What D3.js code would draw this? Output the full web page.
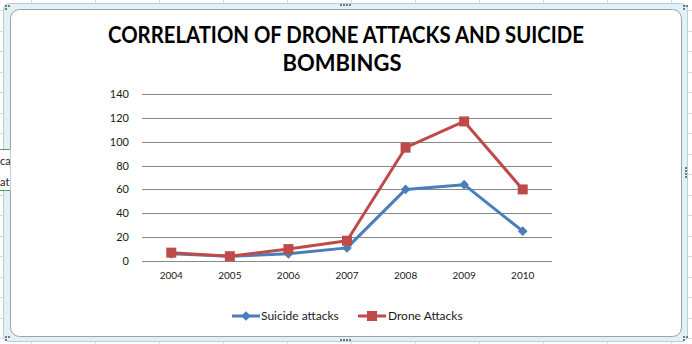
<!DOCTYPE html>
<html><head><meta charset="utf-8">
<script src="https://cdn.jsdelivr.net/npm/d3@7/dist/d3.min.js"></script>
<style>html,body{margin:0;padding:0;background:#fff;overflow:hidden}svg{display:block}</style>
</head><body>
<svg id="c" width="692" height="344"></svg>
<script>
const years = ["2004","2005","2006","2007","2008","2009","2010"];
const suicideAttacks = [6, 4, 6, 11, 60, 64, 25];
const droneAttacks = [7, 4, 10, 17, 95, 117, 60];
const yTicks = [0, 20, 40, 60, 80, 100, 120, 140];
const titleLines = ["CORRELATION OF DRONE ATTACKS AND SUICIDE", "BOMBINGS"];
const seriesNames = ["Suicide attacks", "Drone Attacks"];
const colors = ["#4a7ebb", "#be4b48"];

const svg = d3.select("#c");
const W = 692, H = 344;

// spreadsheet background grid
const bg = svg.append("g");
bg.append("rect").attr("width", W).attr("height", H).attr("fill", "#ffffff");
for (let x = 31; x < W; x += 64) bg.append("line").attr("x1", x + .5).attr("x2", x + .5).attr("y1", 0).attr("y2", H).attr("stroke", "#d4dbe6");
for (let y = 10; y < H; y += 20.5) bg.append("line").attr("x1", 0).attr("x2", W).attr("y1", Math.round(y) + .5).attr("y2", Math.round(y) + .5).attr("stroke", "#d4dbe6");

// chart frame
svg.append("rect").attr("x", 3.5).attr("y", 3.5).attr("width", 684).attr("height", 338).attr("rx", 6)
  .attr("fill", "#e1f1f5").attr("stroke", "#b7cfd6");
svg.append("rect").attr("x", 10.5).attr("y", 9.5).attr("width", 671).attr("height", 327).attr("rx", 9)
  .attr("fill", "#ffffff").attr("stroke", "#9aa3a6");

// partially visible cell text at the left edge
const cell = svg.append("g").attr("font-family", "Lato, sans-serif").attr("font-size", 11).attr("fill", "#222");
cell.append("rect").attr("x", 0).attr("y", 150).attr("width", 10).attr("height", 40).attr("fill", "#fff");
cell.append("text").attr("x", 0).attr("y", 165).text("ca");
cell.append("text").attr("x", 0).attr("y", 186).text("at");
cell.append("line").attr("x1", 0).attr("x2", 10).attr("y1", 149.5).attr("y2", 149.5).attr("stroke", "#5a9a5a");
cell.append("line").attr("x1", 0).attr("x2", 10).attr("y1", 190.5).attr("y2", 190.5).attr("stroke", "#5a9a5a");
cell.append("line").attr("x1", 10.5).attr("x2", 10.5).attr("y1", 149).attr("y2", 191).attr("stroke", "#b7cfd6");

// handles
const handle = (cx, cy, n, horiz) => { for (let i = 0; i < n; i++) svg.append("rect").attr("x", horiz ? cx + i * 3 : cx).attr("y", horiz ? cy : cy + i * 3).attr("width", 2).attr("height", 2).attr("fill", "#6d7a80"); };
handle(340, 4, 4, true); handle(340, 339, 4, true); handle(685, 167, 4, false);
[[5,5],[5,336],[683,5],[683,336]].forEach(([x,y]) => { svg.append("rect").attr("x", x).attr("y", y).attr("width", 2).attr("height", 2).attr("fill", "#6d7a80"); svg.append("rect").attr("x", x+3).attr("y", y).attr("width", 2).attr("height", 2).attr("fill", "#6d7a80"); svg.append("rect").attr("x", x).attr("y", y+3).attr("width", 2).attr("height", 2).attr("fill", "#6d7a80"); });

// title
const title = svg.append("g").attr("font-family", "Lato, 'Open Sans', sans-serif").attr("font-weight", "bold").attr("font-size", 22).attr("fill", "#000");
title.append("text").attr("x", 346).attr("y", 43).attr("text-anchor", "middle").attr("textLength", 476).attr("lengthAdjust", "spacingAndGlyphs").text(titleLines[0]);
title.append("text").attr("x", 342).attr("y", 71).attr("text-anchor", "middle").attr("textLength", 119).attr("lengthAdjust", "spacingAndGlyphs").text(titleLines[1]);

// scales
const x = d3.scaleBand().domain(years).range([142, 552]);
const y = d3.scaleLinear().domain([0, 140]).range([261, 94]);
const cx = d => x(d) + x.bandwidth() / 2;

// gridlines
svg.append("g").selectAll("line").data(yTicks).join("line")
  .attr("x1", 142).attr("x2", 552).attr("y1", d => Math.round(y(d)) + .5).attr("y2", d => Math.round(y(d)) + .5)
  .attr("stroke", "#878787").attr("stroke-width", 1);

// y axis labels
const yAxis = svg.append("g").attr("transform", "translate(129,0)")
  .call(d3.axisLeft(y).tickValues(yTicks).tickSize(0).tickPadding(0));
yAxis.select(".domain").remove();
yAxis.selectAll("text").attr("font-family", "Lato, sans-serif").attr("font-size", 11).attr("fill", "#1a1a1a");

// x axis labels
const xAxis = svg.append("g").attr("transform", "translate(0,261)")
  .call(d3.axisBottom(x).tickSize(0).tickPadding(11));
xAxis.select(".domain").remove();
xAxis.selectAll("text").attr("font-family", "Lato, sans-serif").attr("font-size", 10).attr("fill", "#1a1a1a");

// lines
const line = d3.line().x((d, i) => cx(years[i])).y(d => y(d));
const allSeries = [suicideAttacks, droneAttacks];
allSeries.forEach((s, k) => {
  svg.append("path").datum(s).attr("d", line).attr("fill", "none").attr("stroke", colors[k])
    .attr("stroke-width", 3).attr("stroke-linejoin", "round");
});
// markers
const diamond = d3.symbol().type(d3.symbolDiamond2).size(60);
svg.append("g").selectAll("path").data(suicideAttacks).join("path")
  .attr("d", diamond).attr("transform", (d, i) => `translate(${cx(years[i])},${y(d)})`).attr("fill", colors[0]);
svg.append("g").selectAll("rect").data(droneAttacks).join("rect")
  .attr("x", (d, i) => cx(years[i]) - 5).attr("y", d => y(d) - 5).attr("width", 10).attr("height", 10).attr("fill", colors[1]);

// legend
const lg = svg.append("g").attr("font-family", "Lato, sans-serif").attr("font-size", 12).attr("fill", "#1a1a1a");
const legendPos = [{x0: 232, x1: 260, tx: 261}, {x0: 358, x1: 386, tx: 388}];
seriesNames.forEach((n, k) => {
  const p = legendPos[k];
  lg.append("line").attr("x1", p.x0).attr("x2", p.x1).attr("y1", 316).attr("y2", 316).attr("stroke", colors[k]).attr("stroke-width", 3);
  const mx = (p.x0 + p.x1) / 2;
  if (k === 0) lg.append("path").attr("d", diamond).attr("transform", `translate(${mx},316)`).attr("fill", colors[0]);
  else lg.append("rect").attr("x", mx - 5).attr("y", 311).attr("width", 10).attr("height", 10).attr("fill", colors[1]);
  lg.append("text").attr("x", p.tx).attr("y", 320).text(n);
});
</script>
</body></html>
